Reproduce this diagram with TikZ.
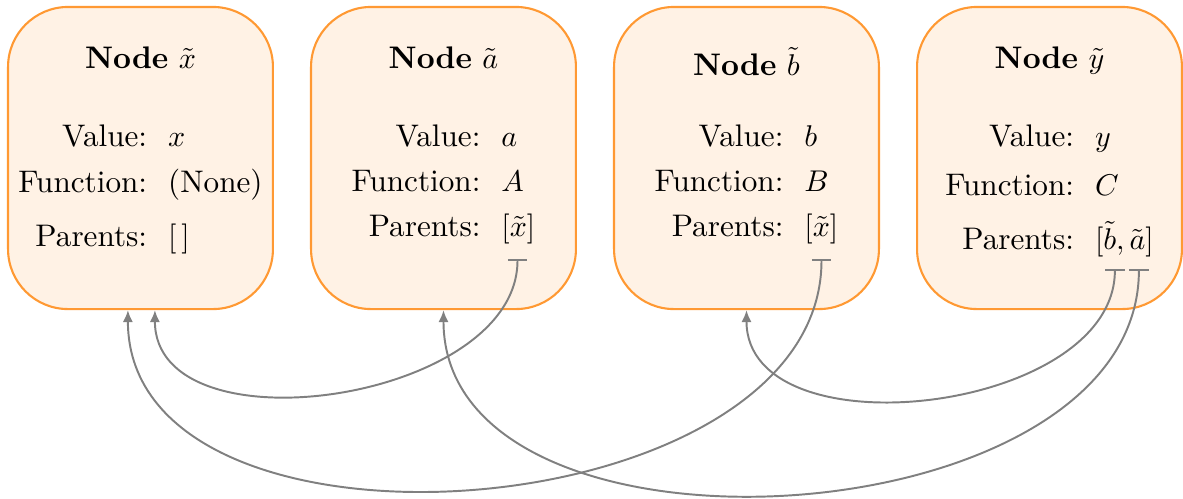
\documentclass[tikz,border=0pt]{standalone}
\usepackage{amsmath,amssymb}
\usetikzlibrary{positioning,calc,arrows.meta}

\begin{document}
\begin{tikzpicture}[x=1pt,y=1pt,font=\fontsize{10.4}{12.5}\selectfont,
	box/.style={draw=orange!80,fill=orange!10,line width=0.7pt,rounded corners=20pt,minimum width=88.3pt,minimum height=100.7pt},
	title/.style={anchor=base},
	table/.style={anchor=base,inner sep=0pt},
	link/.style={gray,line width=0.65pt,{Bar[width=6.4pt]}-{Latex[length=4pt,width=3.4pt]},out=-90,in=-90}]
	\useasboundingbox (0,0) rectangle (394.33,-166.33);
	% the four boxes
	\node[box] (NX) at (46.83,-52.67) {};
	\node[box,right=12pt of NX] (NA) {};
	\node[box,right=12pt of NA] (NB) {};
	\node[box,right=12pt of NB] (NY) {};
	\node[title] (TX) at ($(NX.north)+(0,-21)$) {\textbf{Node} $\tilde{x}$};
	\node[title] (TA) at ($(NA.north)+(0,-21)$) {\textbf{Node} $\tilde{a}$};
	\node[title] (TB) at ($(NB.north)+(0,-23.3)$) {\textbf{Node} $\tilde{b}$};
	\node[title] (TY) at ($(NY.north)+(0,-21)$) {\textbf{Node} $\tilde{y}$};
	\node[table] (VX) at ($(NX.north)+(0,-47)$) {\begin{tabular}[t]{@{}r@{\hspace{7pt}}l@{}}
		Value: & $x$\\[2.8pt] Function: & (None)\\[5.5pt] Parents: & $[\,]$\end{tabular}};
	\node[table] (VA) at ($(NA.north)+(0,-47)$) {\begin{tabular}[t]{@{}r@{\hspace{7pt}}l@{}}
		Value: & $a$\\[2.2pt] Function: & $A$\\[2.5pt] Parents: & $[\tilde{x}]$\end{tabular}};
	\node[table] (VB) at ($(NB.north)+(0,-47)$) {\begin{tabular}[t]{@{}r@{\hspace{7pt}}l@{}}
		Value: & $b$\\[2.2pt] Function: & $B$\\[2.5pt] Parents: & $[\tilde{x}]$\end{tabular}};
	\node[table] (VY) at ($(NY.north)+(0,-47)$) {\begin{tabular}[t]{@{}r@{\hspace{7pt}}l@{}}
		Value: & $y$\\[3.8pt] Function: & $C$\\[4.8pt] Parents: & $[\tilde{b},\tilde{a}]$\end{tabular}};
	% parent links
	\coordinate (PA) at ($(NA.south)+(24.67,17)$);
	\coordinate (PB) at ($(NB.south)+(25,17)$);
	\coordinate (PY1) at ($(NY.south)+(21.8,13.7)$);
	\coordinate (PY2) at ($(NY.south)+(29.8,13.7)$);
	\coordinate (EX1) at ($(NX.south)+(-4.2,0)$);
	\coordinate (EX2) at ($(NX.south)+(4.8,0)$);
	\draw[link] (PA) to (EX2);
	\draw[link] (PB) to (EX1);
	\draw[link] (PY1) to (NB.south);
	\draw[link] (PY2) to (NA.south);
\end{tikzpicture}
\end{document}
